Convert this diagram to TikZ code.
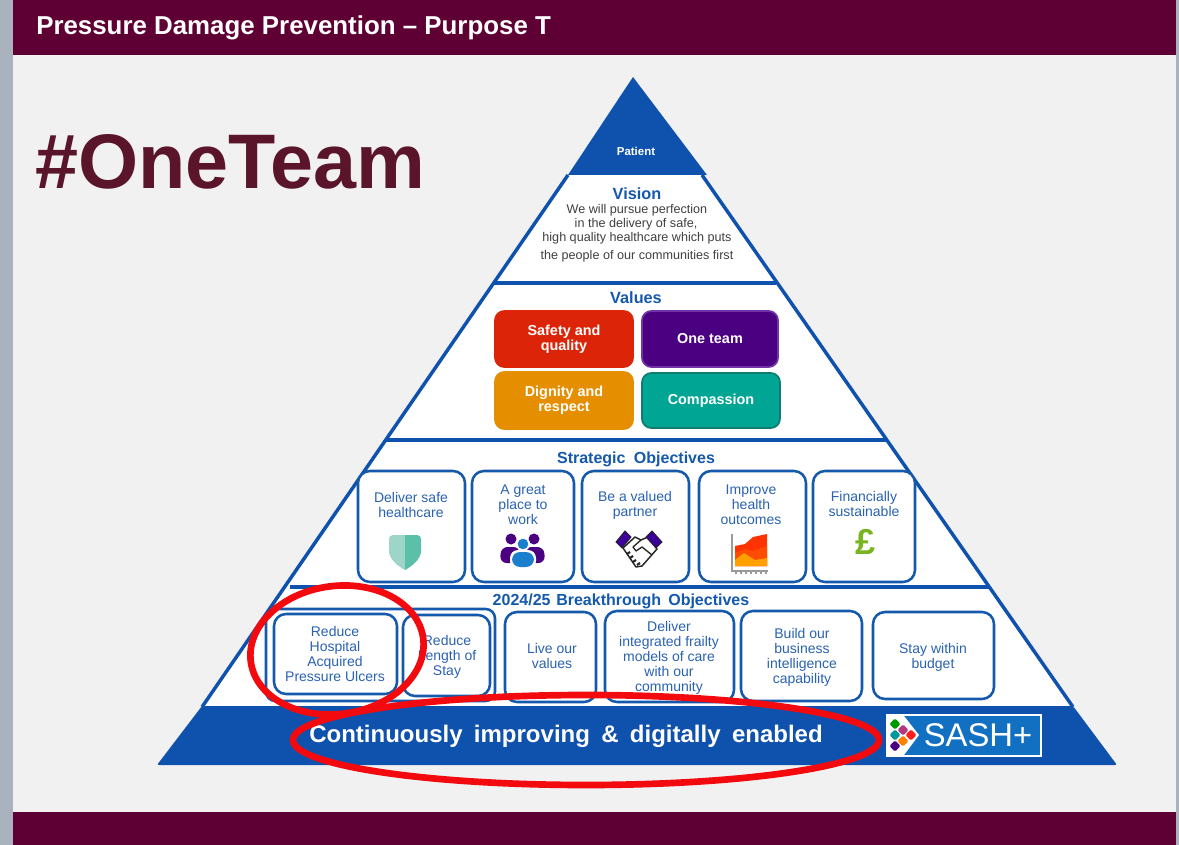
\documentclass[tikz,border=0pt]{standalone}
\usepackage{fontspec}
\setmainfont{Liberation Sans}
\definecolor{maroon}{HTML}{5E0033}
\definecolor{teamred}{HTML}{5A152B}
\definecolor{stripe}{HTML}{A9B2BD}
\definecolor{paper}{HTML}{F1F1F1}
\definecolor{pyrblue}{HTML}{0F52AE}
\definecolor{boxblue}{HTML}{1459AC}
\definecolor{txtblue}{HTML}{2A62B2}
\definecolor{logoblue}{HTML}{1170C2}
\definecolor{safetyred}{HTML}{DC2508}
\definecolor{onepurple}{HTML}{4B0082}
\definecolor{onerim}{HTML}{7232A8}
\definecolor{dignorange}{HTML}{E58E00}
\definecolor{compteal}{HTML}{00A594}
\definecolor{comprim}{HTML}{0E7D70}
\definecolor{ringred}{HTML}{F20A0F}
\definecolor{peopleblue}{HTML}{1B7FCE}
\definecolor{poundgreen}{HTML}{78B41E}
\definecolor{shieldlight}{HTML}{9DD6C8}
\definecolor{shielddark}{HTML}{5CBFA8}
\newcommand{\fsz}[1]{\fontsize{#1}{#1}\selectfont}
\tikzset{
  band/.style={fill=maroon,draw=none},
  pyrline/.style={draw=pyrblue,line width=2.6pt,line join=miter},
  objbox/.style={draw=boxblue,line width=1.9pt,rounded corners=9pt,fill=white},
  valbox/.style={rounded corners=7pt,line width=1.3pt},
  objtext/.style={text=txtblue,align=center,inner sep=0pt,font=\fontsize{10.5}{11.3}\selectfont},
  title/.style={text=boxblue,inner sep=0pt,font=\fontsize{12}{13}\selectfont\bfseries},
  valtext/.style={text=white,align=center,inner sep=0pt,font=\fontsize{10.8}{11.3}\selectfont\bfseries},
  visiontext/.style={text=black!75,inner sep=0pt,font=\fontsize{9.45}{10}\selectfont},
  ring/.style={draw=ringred,line width=5pt},
  dot/.style={minimum size=8.5pt,inner sep=0pt,outer sep=0pt,diamond,rounded corners=1pt}
}
\usetikzlibrary{shapes.geometric}
\begin{document}
\begin{tikzpicture}[x=0.75pt,y=-0.75pt]
\useasboundingbox (0,0) rectangle (1179,845);

\fill[stripe] (0,0) rectangle (1179,845);
\fill[paper] (13,0) rectangle (1176,845);
\fill[band] (13,0) rectangle (1176,55);
\fill[band] (13,812) rectangle (1176,845);

\node[anchor=west,text=white,inner sep=0pt,font=\fsz{19.4}\bfseries] (bandtitle) at (36,28) {Pressure Damage Prevention -- Purpose T};
\node[anchor=west,text=teamred,inner sep=0pt,font=\fsz{58}\bfseries] (oneteam) at (35,162) {\#OneTeam};

% pyramid
\fill[white] (566,175) -- (702,175) -- (1073,707) -- (202,707) -- cycle;
\fill[pyrblue] (633,77) -- (707,175) -- (568,175) -- cycle;
\fill[pyrblue,rounded corners=1.5pt] (202,706) -- (1073,706) -- (1117,765) -- (157,765) -- cycle;
\draw[pyrline] (568,175) -- (202,707);
\draw[pyrline] (702,175) -- (1073,707);
\draw[pyrline] (494,283) -- (776,283);
\draw[pyrline] (385,440) -- (887,440);
\draw[pyrline] (290,587) -- (989,587);

\node[text=white,inner sep=0pt,font=\fsz{8.6}\bfseries] (patient) at (636,151) {Patient};

\node[title,font=\fsz{12.2}\bfseries] (vision) at (637,194) {Vision};
\node[visiontext] (vis1) at (637,210) {We will pursue perfection};
\node[visiontext] (vis2) at (636,224) {in the delivery of safe,};
\node[visiontext] (vis3) at (637,238) {high quality healthcare which puts};
\node[visiontext] (vis4) at (637,256) {the people of our communities first};

\node[title,font=\fsz{12.2}\bfseries] (values) at (636,298) {Values};
\draw[valbox,fill=safetyred,draw=safetyred] (495,311) rectangle node[valtext] (safety) {Safety and\\quality} (633,367);
\draw[valbox,fill=onepurple,draw=onerim] (642,311) rectangle node[valtext] (oneteambox) {One team} (778,367);
\draw[valbox,fill=dignorange,draw=dignorange] (495,372) rectangle node[valtext] (dignity) {Dignity and\\respect} (633,429);
\draw[valbox,fill=compteal,draw=comprim] (642,373) rectangle node[valtext] (compassion) {Compassion} (780,428);

\node[title] (strategic) at (636,459) {Strategic\hspace{3pt} Objectives};
\draw[objbox] (358,471) rectangle (465,582);
\draw[objbox] (472,471) rectangle (574,582);
\draw[objbox] (582,471) rectangle (689,582);
\draw[objbox] (699,471) rectangle (806,582);
\draw[objbox] (813,471) rectangle (915,582);
\node[objtext] (safe) at (411,505) {Deliver safe\\healthcare};
\node[objtext] (place) at (523,505) {A great\\place to\\work};
\node[objtext] (partner) at (635,505) {Be a valued\\partner};
\node[objtext] (health) at (751,505) {Improve\\health\\outcomes};
\node[objtext] (finance) at (864,504) {Financially\\sustainable};

% shield
\fill[shieldlight] (405,535) -- (393,535) .. controls (390,535) and (389,537) .. (389,539) -- (389,552) .. controls (390,560) and (398,566) .. (405,570) -- cycle;
\fill[shielddark] (405,535) -- (417,535) .. controls (420,535) and (421,537) .. (421,539) -- (421,552) .. controls (420,560) and (412,566) .. (405,570) -- cycle;

% people
\fill[onepurple] (511,539) circle (5.5);
\fill[onepurple] (534,539) circle (5.5);
\fill[onepurple,rounded corners=5pt] (500,563) -- (501,547) -- (520,547) -- (520,563) -- cycle;
\fill[onepurple,rounded corners=5pt] (525,563) -- (525,547) -- (544,547) -- (545,563) -- cycle;
\fill[white] (523,544) circle (7);
\fill[peopleblue] (523,544) circle (5.3);
\fill[white,rounded corners=6pt] (510,569) -- (510,550) -- (536,550) -- (536,569) -- cycle;
\fill[peopleblue,rounded corners=6pt] (512,567) -- (512,552) -- (534,552) -- (534,567) -- cycle;

% handshake
\draw[black!85,line width=1.1pt,fill=white,line join=round] (623,548) -- (635,537) -- (641,540) -- (648,537) -- (657,549) -- (642,566) -- (636,567) -- cycle;
\draw[black!85,line width=1pt,line join=round] (641,540) -- (633,547) -- (636,551) -- (642,547) -- (652,555);
\draw[black!85,line width=1.6pt] (627,554) -- (630,552) (630,558) -- (633,556) (633,562) -- (636,560) (637,565) -- (640,563);
\draw[black!85,line width=.7pt,fill=onepurple!80!blue] (616,542) -- (625,531) -- (631,537) -- (622,548) -- cycle;
\draw[black!85,line width=.7pt,fill=onepurple!80!blue] (662,542) -- (652,531) -- (646,537) -- (656,548) -- cycle;

% chart
\draw[black!40,line width=1.5pt] (732,534) -- (732,571) -- (768,571);
\foreach \tick in {736,741,746,751,756,761,766} {\draw[black!40,line width=.8pt] (\tick,571) -- (\tick,574);}
\fill[red!60!orange] (735,566) -- (735,546) -- (745,544) -- (753,537) -- (767,534) -- (767,566) -- cycle;
\fill[orange!60!red] (735,566) -- (735,553) -- (745,549) -- (753,551) -- (767,546) -- (767,566) -- cycle;
\fill[orange!75!yellow] (735,566) -- (735,560) -- (744,553) -- (755,560) -- (767,558) -- (767,566) -- cycle;

\node[text=poundgreen,inner sep=0pt,font=\fsz{27}\bfseries] (pound) at (866,542) {£};

\node[title] (breakthrough) at (621,601) {2024/25\hspace{1pt} Breakthrough\hspace{2pt} Objectives};
\draw[objbox,rounded corners=7pt] (266,609) rectangle (495,701);
\draw[objbox] (274,614) rectangle (397,694);
\draw[objbox] (403,615) rectangle (490,696);
\draw[objbox] (505,612) rectangle (596,702);
\draw[objbox] (605,611) rectangle (734,702);
\draw[objbox] (741,611) rectangle (862,701);
\draw[objbox] (873,612) rectangle (994,699);
\node[objtext] (ulcers) at (335,654) {Reduce\\Hospital\\Acquired\\Pressure Ulcers};
\node[objtext] (stay) at (447,657) {Reduce\\Length of\\Stay};
\node[objtext] (live) at (552,656) {Live our\\values};
\node[objtext] (frailty) at (669,658) {Deliver\\integrated frailty\\models of care\\with our\\community};
\node[objtext] (build) at (802,657) {Build our\\business\\intelligence\\capability};
\node[objtext] (budget) at (933,657) {Stay within\\budget};

\node[text=white,inner sep=0pt,font=\fsz{18}\bfseries] (digital) at (566,736) {Continuously\hspace{3.5pt} improving\hspace{3.5pt} \&\hspace{3.5pt} digitally\hspace{3.5pt} enabled};

% logo
\draw[white,fill=logoblue,line width=1.5pt] (887,715) rectangle (1041,756);
\fill[white] (888,716) -- (904,716) -- (919,735) -- (904,755) -- (888,755) -- cycle;
\node[dot,fill=green!60!black] (dota) at (895,724) {};
\node[dot,fill=magenta!70!black] (dotb) at (903,730) {};
\node[dot,fill=teal!80!cyan] (dotc) at (895,735) {};
\node[dot,fill=red!85!pink] (dotd) at (911,735) {};
\node[dot,fill=orange] (dote) at (903,741) {};
\node[dot,fill=onepurple] (dotf) at (895,746) {};
\node[text=white,inner sep=0pt,font=\fsz{24.6}] (sash) at (978,735) {SASH+};

% red rings
\draw[ring] (337,650) ellipse [x radius=87,y radius=64,rotate=8];
\draw[ring] (586,740) ellipse [x radius=293,y radius=45];
\end{tikzpicture}
\end{document}
